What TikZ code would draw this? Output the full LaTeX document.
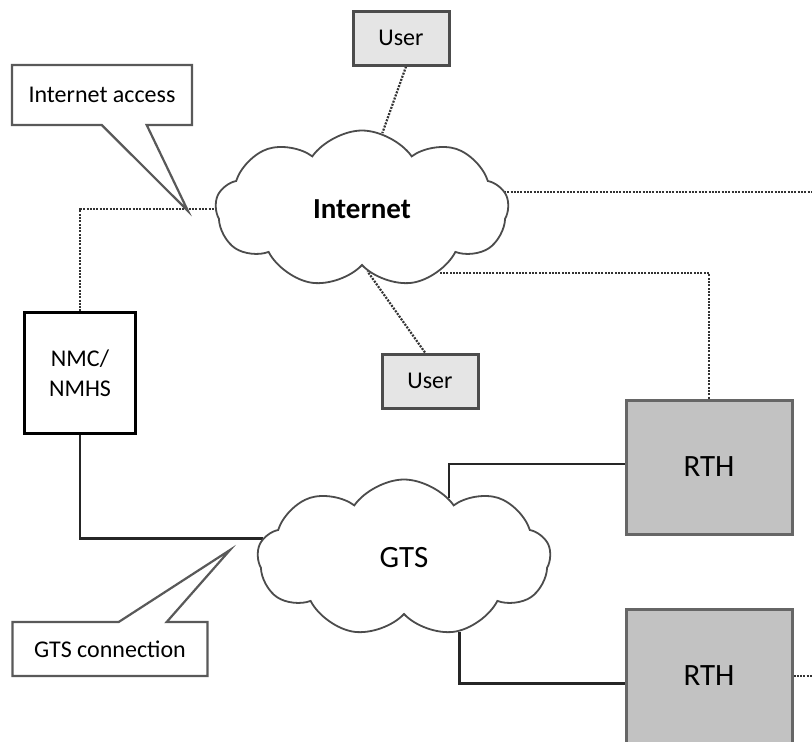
\documentclass[tikz,border=0pt]{standalone}
\usepackage{fontspec}
\setmainfont{Carlito}
\usetikzlibrary{shapes.symbols,shapes.callouts,backgrounds}

\begin{document}
\begin{tikzpicture}[x=1pt, y=-1pt,
    box/.style={draw=black!70, line width=3pt, inner sep=0pt, font=\fontsize{24}{30}\selectfont},
    userbox/.style={box, fill=black!10, minimum width=96pt, minimum height=54pt},
    rthbox/.style={box, draw=black!60, fill=black!24, minimum width=166pt, minimum height=134pt, font=\fontsize{31}{35}\selectfont},
    netcloud/.style={cloud, cloud puffs=9, cloud puff arc=110, cloud ignores aspect, draw=black!70, line width=1.8pt, fill=white, minimum width=293pt, minimum height=157pt, inner sep=0pt},
    note/.style={rectangle callout, draw=black!65, line width=2.2pt, fill=white, inner sep=0pt, font=\fontsize{24}{30}\selectfont},
    dots/.style={draw=black!80, line width=2.2pt, dash pattern=on 2pt off 1.3pt},
    wire/.style={draw=black!85, line width=2.8pt}]
    \useasboundingbox (0,0) rectangle (812,742);
    \coordinate (netR) at (812,192);
    \coordinate (acctip) at (188,211);
    \coordinate (gtstip) at (230,550);
    \node[netcloud, font=\bfseries\fontsize{29}{33}\selectfont] (inet) at (362,209) {Internet};
    \node[netcloud, font=\fontsize{31}{35}\selectfont] (gts) at (404,558) {GTS};
    \node[userbox] (usrtop) at (401,38) {User};
    \node[userbox] (usrbot) at (430,381) {User};
    \node[box, draw=black, line width=2.2pt, fill=white, minimum width=111pt, minimum height=121pt, align=center] (nmc) at (80,373) {NMC/\\NMHS};
    \node[rthbox] (rth1) at (709,467) {RTH};
    \node[rthbox] (rth2) at (709,676) {RTH};
    \node[note, minimum width=180pt, minimum height=60pt, callout absolute pointer=(acctip), callout pointer width=45pt] (accnote) at (102,95) {Internet access};
    \node[note, minimum width=195pt, minimum height=54pt, callout absolute pointer=(gtstip), callout pointer width=48pt] (gtsnote) at (110,649) {GTS connection};
    \begin{scope}[on background layer]
    \draw[dots] (nmc.north) |- (inet.center);
    \draw[dots] (usrtop.-80) -- (inet.75);
    \draw[dots] (usrbot.100) -- (inet.-85);
    \draw[dots] (inet.center |- netR) -- (netR);
    \draw[dots] (rth1.north) |- (inet.-40);
    \draw[dots] (rth2.east) -- (rth2.east -| netR);
    \draw[wire] (nmc.south) |- (gts.172);
    \draw[wire] (rth1.178) -| (gts.53);
    \draw[wire] (rth2.-175) -| (gts.-53);
    \end{scope}
\end{tikzpicture}
\end{document}
